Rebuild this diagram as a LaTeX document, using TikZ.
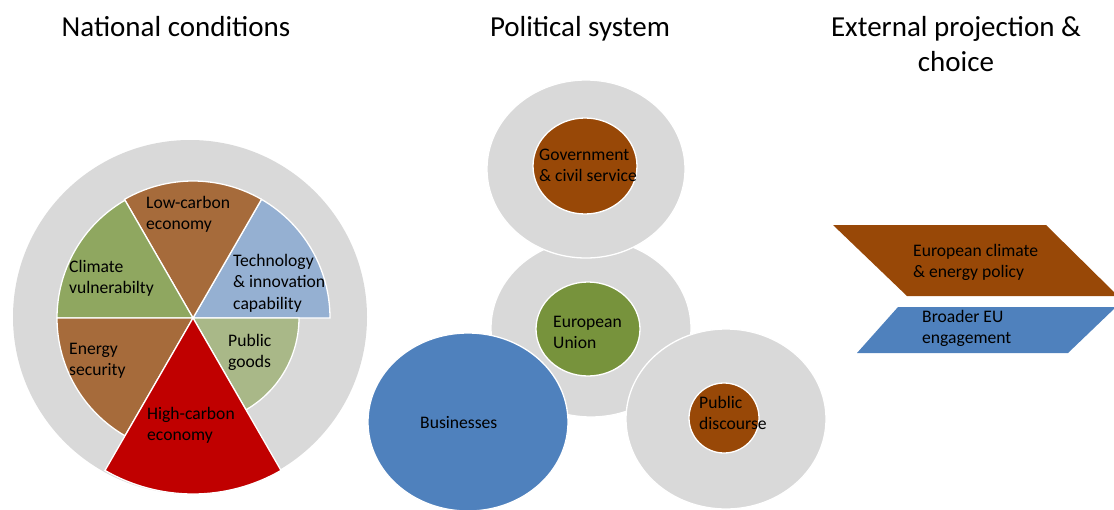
\documentclass[tikz,border=0pt]{standalone}
\usepackage{fontspec}
\setmainfont{Carlito}
\definecolor{cgray}{HTML}{D9D9D9}
\definecolor{cbrown}{HTML}{984807}
\definecolor{cblue}{HTML}{4F81BD}
\definecolor{cgreen}{HTML}{77933C}
\definecolor{pbrown}{HTML}{A66B3B}
\definecolor{pblue}{HTML}{95B0D2}
\definecolor{pgreen}{HTML}{8FA760}
\definecolor{polive}{HTML}{A9B888}
\definecolor{pred}{HTML}{C00000}
\tikzset{
  title/.style={anchor=base, align=center, inner sep=0pt, font=\fontsize{29}{35}\selectfont},
  lbl/.style={anchor=base west, align=left, inner sep=0pt, font=\fontsize{17.6}{21.5}\selectfont},
  wedge/.style={draw=white, line width=1.3pt},
  blob/.style={draw=white, line width=1.3pt},
}
\begin{document}
\begin{tikzpicture}[x=1pt,y=1pt]
\useasboundingbox (0,0) rectangle (1114,-509);
% titles (multi-line nodes: base = last line)
\node[title] (t1) at (176,-36) {National conditions};
\node[title] (t2) at (580,-36) {Political system};
\node[title] (t3) at (956,-71) {External projection \&\\choice};
% pie
\fill[cgray] (190,-317) circle[radius=177];
\coordinate (pc) at (193,-318);
\path[wedge, fill=pblue] (pc) -- ++(0:137) arc[start angle=0, end angle=60, radius=137] -- cycle;
\path[wedge, fill=pbrown] (pc) -- ++(60:137) arc[start angle=60, end angle=120, radius=137] -- cycle;
\path[wedge, fill=pgreen] (pc) -- ++(120:136) arc[start angle=120, end angle=180, radius=136] -- cycle;
\path[wedge, fill=pbrown] (pc) -- ++(180:136) arc[start angle=180, end angle=240, radius=136] -- cycle;
\path[wedge, fill=polive] (pc) -- ++(300:106) arc[start angle=300, end angle=360, radius=106] -- cycle;
\path[wedge, fill=pred] (pc) -- ++(240:176) arc[start angle=240, end angle=300, radius=176] -- cycle;
\node[lbl] (lc) at (146,-229.5) {Low-carbon\\economy};
\node[lbl] (te) at (233,-309) {Technology\\\& innovation\\capability};
\node[lbl] (cv) at (69,-293.5) {Climate\\vulnerabilty};
\node[lbl] (pg) at (228,-367.5) {Public\\goods};
\node[lbl] (es) at (69,-375.5) {Energy\\security};
\node[lbl] (hc) at (147,-440.5) {High-carbon\\economy};
% political system
\path[blob, fill=cgray] (591,-328) ellipse[x radius=100, y radius=89];
\path[blob, fill=cgreen] (588,-329) ellipse[x radius=52, y radius=47];
\path[blob, fill=cgray] (586,-169) ellipse[x radius=99, y radius=89];
\path[blob, fill=cbrown] (585,-166) ellipse[x radius=52, y radius=48];
\path[blob, fill=cblue] (468,-422) ellipse[x radius=100, y radius=89];
\path[blob, fill=cgray] (726,-419) ellipse[x radius=100, y radius=90];
\path[blob, fill=cbrown] (724,-418) circle[radius=35];
\node[lbl] (gv) at (539,-181.5) {Government\\\& civil service};
\node[lbl] (eu) at (553,-348.5) {European\\Union};
\node[lbl] (bu) at (420,-428) {Businesses};
\node[lbl] (pd) at (699,-429.5) {Public\\discourse};
% external projection
\fill[cbrown] (833,-225) -- (1046,-225) -- (1118,-296) -- (907,-296) -- cycle;
\fill[cblue] (898,-307) -- (1116,-307) -- (1068,-353) -- (857,-353) -- cycle;
\node[lbl] (ec) at (913,-277.5) {European climate\\\& energy policy};
\node[lbl] (be) at (922,-343.5) {Broader EU\\engagement};
\end{tikzpicture}
\end{document}
